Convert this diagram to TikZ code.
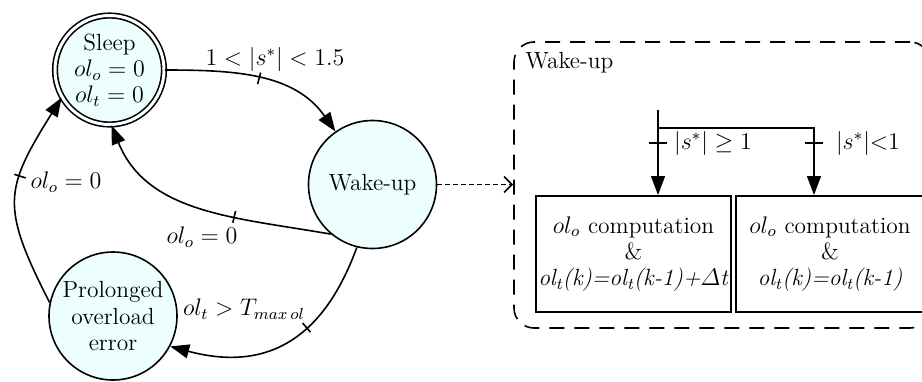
\documentclass[tikz,border=0pt]{standalone}
\usetikzlibrary{arrows.meta,decorations.markings}
\definecolor{statefill}{RGB}{236,254,254}
\tikzset{
  x=0.5pt, y=0.5pt,
  every node/.style={font=\fontsize{11.7}{13.2}\selectfont},
  state/.style={circle, draw, line width=0.8pt, fill=statefill, inner sep=0pt,
    align=center, minimum size=64pt},
  trans/.style={line width=0.8pt, -{Triangle[length=9.5pt,width=7pt]}},
  crossmark/.style={postaction={decorate, decoration={markings,
    mark=at position #1 with {\draw[line width=0.8pt, -] (0pt,-3pt) -- (0pt,3pt);}}}},
  bigcross/.style={postaction={decorate, decoration={markings,
    mark=at position #1 with {\draw[line width=0.8pt, -] (0pt,-4.5pt) -- (0pt,4.5pt);}}}},
  lbl/.style={inner sep=0pt},
  stepbox/.style={draw, line width=1pt, minimum height=58pt, align=center, inner sep=0pt},
  dotconn/.style={line width=0.8pt, dash pattern=on 2.5pt off 1.5pt,
    -{Straight Barb[length=4pt,width=8pt]}},
}
\begin{document}
\begin{tikzpicture}
\useasboundingbox (0,0) rectangle (922,-381);

% states
\node[state, double, double distance=1.5pt, minimum size=54.5pt] (sleep) at (109.5,-70)
  {Sleep\\$ol_o = 0$\\$ol_t = 0$};
\node[state] (wake) at (372.5,-184.5) {Wake-up};
\node[state] (prolong) at (113,-316) {Prolonged\\overload\\error};

% transitions
\draw[trans, crossmark=0.5] (sleep.0) to[out=0, in=125] (wake.125);
\draw[trans, crossmark=0.38] (wake.230) to[out=170, in=-68] (sleep.-88);
\draw[trans, crossmark=0.4] (wake.256) to[out=250, in=-15, looseness=1.2] (prolong.-28);
\draw[trans, crossmark=0.6] (prolong.168) to[out=117, in=238, looseness=1.35] (sleep.210);

% transition labels
\node[lbl] (l1) at (275,-59) {$1 < |s^{*}| < 1.5$};
\node[lbl] (l2) at (202,-237) {$ol_o = 0$};
\node[lbl] (l3) at (244,-309) {$ol_t > T_{max\,ol}$};
\node[lbl] (l4) at (66,-182) {$ol_o = 0$};

% detail of the wake-up state
\node[draw, line width=0.8pt, dash pattern=on 7.5pt off 5pt, rounded corners=10pt,
  minimum width=208pt, minimum height=143pt] (wakebox) at (722,-185) {};
\node[lbl, anchor=west] (wakettl) at (525,-63) {Wake-up};
\draw[dotconn] (wake.east) -- (wake.east -| wakebox.west);

\node[stepbox, minimum width=97.5pt] (leftbox) at (633.5,-254)
  {$ol_o$ computation\\ \&\\ \textit{ol\textsubscript{t}(k)=ol\textsubscript{t}(k-1)+$\mathnormal{\Delta}$t}};
\node[stepbox, minimum width=94pt] (rightbox) at (830,-254)
  {$ol_o$ computation\\ \&\\ \textit{ol\textsubscript{t}(k)=ol\textsubscript{t}(k-1)}};

\coordinate (split) at (658,-110);
\coordinate (junc) at (658,-128);
\coordinate (rsplit) at (814,-128);
\draw[trans, bigcross=0.39] (split) -- (split |- leftbox.north);
\draw[trans, bigcross=0.767] (junc) -- (rsplit) -- (rsplit |- rightbox.north);
\node[lbl] (c1) at (713,-143) {$|s^{*}|\geq 1$};
\node[lbl] (c2) at (868,-143) {$|s^{*}|{<}1$};
\end{tikzpicture}
\end{document}
